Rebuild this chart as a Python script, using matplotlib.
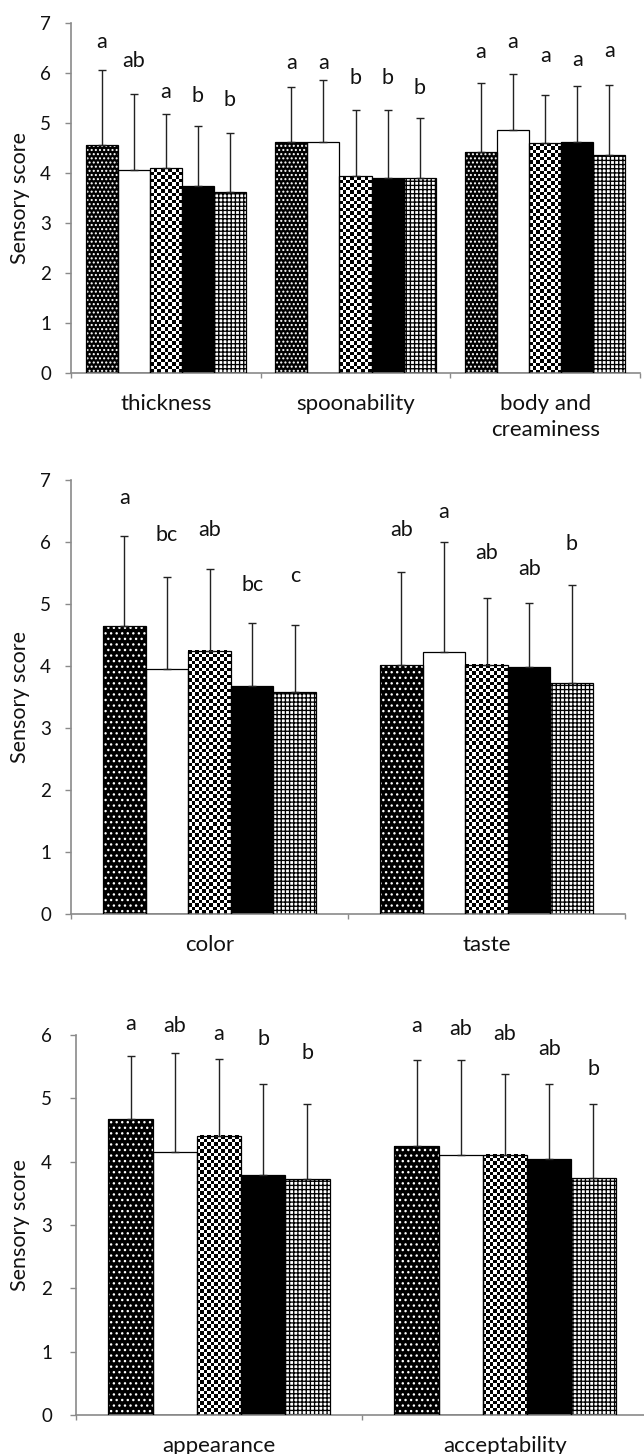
import numpy as np
import matplotlib
matplotlib.use("Agg")
import matplotlib.pyplot as plt
from matplotlib.transforms import blended_transform_factory

plt.rcParams['font.family'] = ['Lato', 'DejaVu Sans']
plt.rcParams['hatch.linewidth'] = 0.95

# ---------------- data ----------------
# panel 1
p1_categories = ['thickness', 'spoonability', 'body and\ncreaminess']
thickness_mean = [4.55, 4.05, 4.09, 3.74, 3.61]
thickness_sd = [1.51, 1.52, 1.09, 1.19, 1.19]
thickness_letters = ['a', 'ab', 'a', 'b', 'b']
thickness_letter_y = [6.62, 6.24, 5.62, 5.54, 5.46]

spoon_mean = [4.61, 4.61, 3.93, 3.89, 3.89]
spoon_sd = [1.10, 1.25, 1.32, 1.36, 1.20]
spoon_letters = ['a', 'a', 'b', 'b', 'b']
spoon_letter_y = [6.20, 6.20, 5.90, 5.90, 5.70]

body_mean = [4.41, 4.86, 4.59, 4.61, 4.35]
body_sd = [1.38, 1.12, 0.97, 1.12, 1.41]
body_letters = ['a', 'a', 'a', 'a', 'a']
body_letter_y = [6.41, 6.61, 6.34, 6.25, 6.43]

# panel 2
p2_categories = ['color', 'taste']
color_mean = [4.65, 3.95, 4.25, 3.67, 3.58]
color_sd = [1.45, 1.49, 1.32, 1.02, 1.08]
color_letters = ['a', 'bc', 'ab', 'bc', 'c']
color_letter_y = [6.71, 6.11, 6.19, 5.30, 5.45]

taste_mean = [4.01, 4.22, 4.02, 3.98, 3.73]
taste_sd = [1.50, 1.78, 1.08, 1.04, 1.57]
taste_letters = ['ab', 'a', 'ab', 'ab', 'b']
taste_letter_y = [6.19, 6.49, 5.82, 5.57, 5.96]

# panel 3
p3_categories = ['appearance', 'acceptability']
appearance_mean = [4.67, 4.15, 4.41, 3.79, 3.72]
appearance_sd = [1.00, 1.56, 1.21, 1.43, 1.19]
appearance_letters = ['a', 'ab', 'a', 'b', 'b']
appearance_letter_y = [6.17, 6.14, 6.01, 5.94, 5.71]

accept_mean = [4.25, 4.11, 4.11, 4.04, 3.74]
accept_sd = [1.35, 1.49, 1.28, 1.19, 1.17]
accept_letters = ['a', 'ab', 'ab', 'ab', 'b']
accept_letter_y = [6.14, 6.10, 6.02, 5.78, 5.47]

y_label = 'Sensory score'

# ---------------- layout ----------------
W, H = 644, 1454
fig = plt.figure(figsize=(W / 100, H / 100), dpi=100)

SPINE = '#8a8a8a'
TXT = '#111111'
TICK_FS = 13.5
LET_FS = 15.5
CAT_FS = 16
YL_FS = 15.5


def px_axes(left, right, top, bottom):
    return fig.add_axes([left / W, 1 - bottom / H, (right - left) / W, (bottom - top) / H])


def checker(ax, rect, sq=3.5):
    x0, x1 = rect.get_x(), rect.get_x() + rect.get_width()
    y0, y1 = rect.get_y(), rect.get_y() + rect.get_height()
    p0 = ax.transData.transform((x0, y0))
    p1 = ax.transData.transform((x1, y1))
    nx = max(1, int(round((p1[0] - p0[0]) / sq)))
    ny = max(1, int(round((p1[1] - p0[1]) / sq)))
    jj, ii = np.meshgrid(np.arange(nx), np.arange(ny))
    img = ((ii + jj) % 2).astype(float)
    ax.imshow(img, cmap='gray', vmin=0, vmax=1, extent=(x0, x1, y0, y1),
              origin='lower', interpolation='nearest', aspect='auto', zorder=2)


def draw_panel(ax, cats, means, sds, letters, letter_y, ymax, frac, dots, ypad):
    ng = len(cats)
    ax.set_xlim(0, ng)
    ax.set_ylim(0, ymax)
    w = frac / 5
    for g in range(ng):
        xs = g + 0.5 + (np.arange(5) - 2) * w
        m = np.array(means[g])
        s = np.array(sds[g])
        # series 1: dark dotted
        ax.bar(xs[0], m[0], w, facecolor='black', edgecolor='white', hatch=dots,
               linewidth=0, zorder=2)
        # series 2: white
        ax.bar(xs[1], m[1], w, facecolor='white', edgecolor='black', linewidth=0, zorder=2)
        # series 3: checkerboard
        r3 = ax.bar(xs[2], m[2], w, facecolor='white', linewidth=0, zorder=1)
        checker(ax, r3[0])
        # series 4: black
        ax.bar(xs[3], m[3], w, facecolor='black', edgecolor='black', linewidth=0, zorder=2)
        # series 5: fine grid
        ax.bar(xs[4], m[4], w, facecolor='white', edgecolor='black', hatch='++++',
               linewidth=0, zorder=2)
        # outlines
        ax.bar(xs, m, w, fill=False, edgecolor='black', linewidth=0.9, zorder=3)
        ax.errorbar(xs, m, yerr=[np.zeros(5), s], fmt='none', ecolor='#222222',
                    elinewidth=1.0, capsize=2.8, capthick=1.0, zorder=4)
        for k in range(5):
            ax.text(xs[k], letter_y[g][k], letters[g][k], ha='center', va='center',
                    fontsize=LET_FS, color=TXT, clip_on=False, zorder=5)
    ax.set_xlim(0, ng)
    ax.set_ylim(0, ymax)
    for sp in ['top', 'right']:
        ax.spines[sp].set_visible(False)
    for sp in ['left', 'bottom']:
        ax.spines[sp].set_color(SPINE)
        ax.spines[sp].set_linewidth(1.2)
    ax.set_yticks(np.arange(0, ymax + 1))
    ax.tick_params(axis='y', direction='out', length=4.3, width=1.0, color=SPINE,
                   labelsize=TICK_FS, pad=ypad, labelcolor=TXT)
    ax.set_xticks(np.arange(0, ng + 1))
    ax.set_xticklabels([])
    ax.tick_params(axis='x', direction='out', length=3.5, width=1.0, color=SPINE)
    tr = blended_transform_factory(ax.transData, ax.transAxes)
    hpx = ax.get_position().height * H
    for g, c in enumerate(cats):
        ax.text(g + 0.5, -21 / hpx, c, transform=tr, ha='center', va='top',
                fontsize=CAT_FS, color=TXT, linespacing=1.4)
    pos = ax.get_position()
    fig.text(20 / W, pos.y0 + pos.height / 2, y_label, rotation=90, ha='center',
             va='center', fontsize=YL_FS, color=TXT)


ax1 = px_axes(71, 640, 22.7, 372.7)
draw_panel(ax1, p1_categories,
           [thickness_mean, spoon_mean, body_mean],
           [thickness_sd, spoon_sd, body_sd],
           [thickness_letters, spoon_letters, body_letters],
           [thickness_letter_y, spoon_letter_y, body_letter_y],
           7, 0.845, '....', 10)

ax2 = px_axes(71, 625, 480, 914)
draw_panel(ax2, p2_categories,
           [color_mean, taste_mean],
           [color_sd, taste_sd],
           [color_letters, taste_letters],
           [color_letter_y, taste_letter_y],
           7, 0.77, '...', 10)

ax3 = px_axes(76, 648, 1035, 1415)
draw_panel(ax3, p3_categories,
           [appearance_mean, accept_mean],
           [appearance_sd, accept_sd],
           [appearance_letters, accept_letters],
           [appearance_letter_y, accept_letter_y],
           6, 0.773, '...', 13)

fig.savefig('out.png', dpi=100)
